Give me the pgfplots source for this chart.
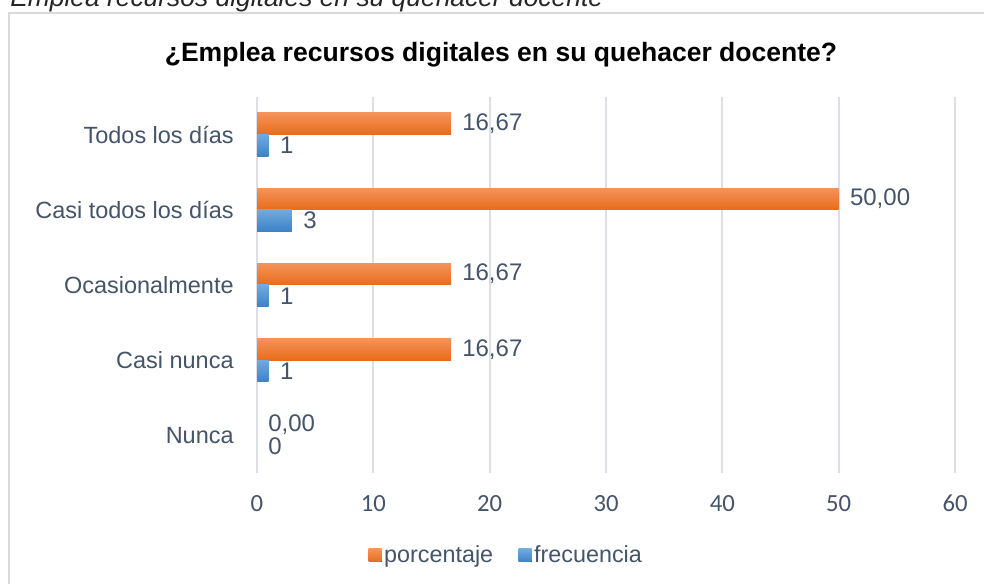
\documentclass[border=0pt]{standalone}
\usepackage{fontspec}
\setmainfont{Liberation Sans}
\newfontfamily\carlito{Carlito}
\usepackage{pgfplots}
\pgfplotsset{compat=1.18}
\definecolor{txt}{HTML}{44546A}
\definecolor{framec}{HTML}{D9D9D9}
\definecolor{gridc}{HTML}{DCE0E6}
\definecolor{orTop}{HTML}{F4935A}
\definecolor{orBot}{HTML}{E86C1A}
\definecolor{blTop}{HTML}{70AAE0}
\definecolor{blBot}{HTML}{3C82C6}
\pgfplotsset{
  por/.style={xbar, bar shift=8.15pt, draw=none, top color=orTop, bottom color=orBot,
    nodes near coords={\pgfmathprintnumber[fixed,fixed zerofill,precision=2,use comma]{\pgfplotspointmeta}}},
  fre/.style={xbar, bar shift=-8.15pt, draw=none, top color=blTop, bottom color=blBot,
    nodes near coords={\pgfmathprintnumber[fixed,precision=0]{\pgfplotspointmeta}}},
}
\begin{document}
\begin{tikzpicture}
\useasboundingbox (0,0) rectangle (738pt,438pt);
\fill[white] (0,0) rectangle (738pt,438pt);
\draw[color=framec, line width=1pt] (6.75pt,-5pt) rectangle (745pt,428.25pt);
\node[anchor=base west, inner sep=0, font=\fontsize{19.8}{23}\selectfont\itshape, text=black!85] at (7.5pt,432.75pt) {Emplea recursos digitales en su quehacer docente};
\node[anchor=base, inner sep=0, font=\fontsize{19.9}{23}\selectfont\bfseries] at (375.75pt,391.5pt) {¿Emplea recursos digitales en su quehacer docente?};
\begin{axis}[
  at={(192.75pt,83.25pt)}, anchor=south west,
  scale only axis, width=523.5pt, height=282pt,
  xmin=0, xmax=60, ymin=-0.5, ymax=4.5,
  xtick={0,10,...,60},
  ytick={0,1,2,3,4},
  yticklabels={Nunca,Casi nunca,Ocasionalmente,Casi todos los días,Todos los días},
  xmajorgrids, grid style={color=gridc, line width=1.3pt},
  axis line style={draw=none},
  major tick length=0pt,
  /pgf/number format/assume math mode=true,
  xticklabel style={font=\carlito\fontsize{18.5}{22}\selectfont, text=txt, anchor=center, yshift=-23pt},
  yticklabel style={font=\fontsize{17.6}{21}\selectfont, text=txt, anchor=east, xshift=-14pt},
  xbar, bar width=16.3pt,
  point meta=x,
  every node near coord/.append style={font=\fontsize{18}{21}\selectfont, text=txt, anchor=west, xshift=5pt},
  legend style={at={(0.3575,-0.2193)}, anchor=center, draw=none, fill=none,
    legend columns=2, font=\fontsize{17.5}{21}\selectfont, text=txt,
    nodes={inner sep=2pt},
    /tikz/every even column/.append style={column sep=17pt}},
  legend image code/.code={\fill[#1] (0pt,-4.9pt) rectangle (9.75pt,4.9pt);},
]
\addplot[por] coordinates {(16.67,4)};
\addlegendentry{porcentaje}
\addplot[fre] coordinates {(1,4)};
\addlegendentry{frecuencia}
\addplot[por, forget plot] coordinates {(50,3)};
\addplot[fre, forget plot] coordinates {(3,3)};
\addplot[por, forget plot] coordinates {(16.67,2)};
\addplot[fre, forget plot] coordinates {(1,2)};
\addplot[por, forget plot] coordinates {(16.67,1)};
\addplot[fre, forget plot] coordinates {(1,1)};
\addplot[por, forget plot] coordinates {(0,0)};
\addplot[fre, forget plot] coordinates {(0,0)};
\end{axis}
\end{tikzpicture}
\end{document}
